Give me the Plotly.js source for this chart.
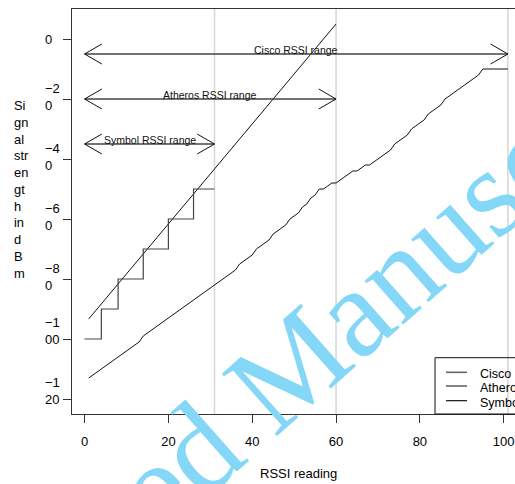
<!DOCTYPE html>
<html>
<head>
<meta charset="utf-8">
<script src="https://cdn.plot.ly/plotly-3.0.1.min.js"></script>
<style>
html,body{margin:0;padding:0;background:#fff;}
#chart{width:515px;height:484px;}
</style>
</head>
<body>
<div id="chart"></div>
<script>
// ---------- data ----------
const seriesNames = ['Cisco', 'Atheros', 'Symbol'];

// Cisco: dBm for RSSI 0..100 (plotted at index 1..101)
const ciscoDbm = [-113,-112,-111,-110,-109,-108,-107,-106,-105,-104,
  -103,-102,-101,-99,-98,-97,-96,-95,-94,-93,
  -92,-91,-90,-89,-88,-87,-86,-85,-84,-83,
  -82,-81,-80,-79,-78,-77,-75,-74,-73,-72,
  -70,-69,-68,-67,-65,-64,-63,-62,-60,-59,
  -58,-56,-55,-53,-52,-50,-50,-49,-48,-48,
  -47,-46,-45,-44,-44,-43,-42,-42,-41,-40,
  -39,-38,-37,-35,-34,-33,-32,-30,-29,-28,
  -27,-25,-24,-23,-22,-20,-19,-18,-17,-16,
  -15,-14,-13,-12,-10,-10,-10,-10,-10,-10,-10];

// Atheros: straight line
const atherosX = [1, 60];
const atherosDbm = [-93.3, 5];

// Symbol: step function
const symbolX = [0, 4, 8, 14, 20, 26, 31];
const symbolDbm = [-100, -90, -80, -70, -60, -50, -50];

// Range arrows
const rangeLabels = ['Cisco RSSI range', 'Atheros RSSI range', 'Symbol RSSI range'];
const rangeStart = [0, 0, 0];
const rangeEnd = [101, 60, 31];
const rangeLevel = [-5, -20, -35];

// Axis ticks
const xTickVals = [0, 20, 40, 60, 80, 100];
const xTickText = ['0', '20', '40', '60', '80', '100'];
const yTickVals = [0, -20, -40, -60, -80, -100, -120];
const yTickText = ['0', '\u221220', '\u221240', '\u221260', '\u221280', '\u2212100', '\u2212120'];

const xTitle = 'RSSI reading';
const yTitleLines = ['Si', 'gn', 'al', 'str', 'en', 'gt', 'h', 'in', 'd', 'B', 'm'];
const watermark = 'Accepted Manuscript';

// ---------- layout geometry ----------
const W = 515, H = 484;
const mL = 72, mR = 0, mT = 9, mB = 70;
const plotW = W - mL - mR, plotH = H - mT - mB;
const xRange = [-3, 102.7];
const yRange = [-125, 10];
const pxPerX = plotW / (xRange[1] - xRange[0]);
const pxPerY = plotH / (yRange[1] - yRange[0]);
const px2paperX = px => (px - mL) / plotW;
const px2paperY = py => (H - mB - py) / plotH;

const FONT = 'Liberation Sans, Arial, sans-serif';
const ink = '#000';

// ---------- traces ----------
const ciscoX = ciscoDbm.map((_, i) => i + 1);
const traces = [
  {x: ciscoX, y: ciscoDbm, type: 'scatter', mode: 'lines', name: seriesNames[0],
   line: {color: '#111', width: 1}, showlegend: false, hoverinfo: 'skip'},
  {x: atherosX, y: atherosDbm, type: 'scatter', mode: 'lines', name: seriesNames[1],
   line: {color: '#111', width: 1}, showlegend: false, hoverinfo: 'skip'},
  {x: symbolX, y: symbolDbm, type: 'scatter', mode: 'lines', name: seriesNames[2],
   line: {color: '#444', width: 1.2, shape: 'hv'}, showlegend: false, hoverinfo: 'skip'}
];

// ---------- shapes ----------
const shapes = [];
// grey vertical reference lines
rangeEnd.forEach(v => shapes.push({type: 'line', xref: 'x', yref: 'paper', x0: v, x1: v, y0: 0, y1: 1,
  line: {color: '#d6d6d6', width: 1.5}, layer: 'below'}));

// double-headed arrows
const headLen = 20, headAng = 30 * Math.PI / 180;
const hdx = headLen * Math.cos(headAng) / pxPerX;
const hdy = headLen * Math.sin(headAng) / pxPerY;
rangeLabels.forEach((lab, i) => {
  const a = rangeStart[i], b = rangeEnd[i], y = rangeLevel[i];
  shapes.push({type: 'line', xref: 'x', yref: 'y', x0: a, x1: b, y0: y, y1: y, line: {color: '#444', width: 1.4}});
  shapes.push({type: 'path', xref: 'x', yref: 'y',
    path: `M${a + hdx},${y + hdy} L${a},${y} L${a + hdx},${y - hdy}`, line: {color: '#111', width: 1}});
  shapes.push({type: 'path', xref: 'x', yref: 'y',
    path: `M${b - hdx},${y + hdy} L${b},${y} L${b - hdx},${y - hdy}`, line: {color: '#111', width: 1}});
});

// legend box
const legLeft = 435, legTop = 357.7;
shapes.push({type: 'rect', xref: 'paper', yref: 'paper', x0: px2paperX(legLeft), x1: px2paperX(W + 20),
  y0: 0, y1: px2paperY(legTop), line: {color: '#111', width: 1}, fillcolor: 'rgba(0,0,0,0)'});
const legLineY = [372.3, 386, 400.7];
const legLineCol = ['#666', '#222', '#000'];
const legLineW = [1.6, 1.1, 1.1];
seriesNames.forEach((n, i) => {
  shapes.push({type: 'line', xref: 'paper', yref: 'paper', x0: px2paperX(446), x1: px2paperX(467),
    y0: px2paperY(legLineY[i]), y1: px2paperY(legLineY[i]), line: {color: legLineCol[i], width: legLineW[i]}});
});

// ---------- annotations ----------
const ann = [];
// watermark (drawn first, text on top of it)
ann.push({text: watermark, xref: 'paper', yref: 'paper', x: px2paperX(271), y: px2paperY(384),
  xanchor: 'center', yanchor: 'middle', textangle: -41.5, showarrow: false,
  font: {family: 'Liberation Serif, Times New Roman, serif', size: 127, color: '#84d7f7'}});

// range labels
rangeLabels.forEach((lab, i) => ann.push({text: lab, xref: 'x', yref: 'y',
  x: (rangeStart[i] + rangeEnd[i]) / 2, y: rangeLevel[i], yshift: 4.5,
  xanchor: 'center', yanchor: 'middle', showarrow: false, font: {family: FONT, size: 10.5, color: '#111'}}));

// y tick labels (wrapped, left aligned)
yTickVals.forEach((v, i) => {
  const t = yTickText[i];
  const txt = t.length > 2 ? t.slice(0, 2) + '<br>' + t.slice(2) : t;
  const shift = t.length > 3 ? 8 : (t.length > 2 ? 2.5 : 0);
  ann.push({text: txt, xref: 'paper', yref: 'y', x: px2paperX(43), y: v, yshift: shift,
    xanchor: 'left', yanchor: 'middle',
    align: 'left', showarrow: false, font: {family: FONT, size: 13, color: ink}});
});

// y title
ann.push({text: yTitleLines.join('<br>'), xref: 'paper', yref: 'paper', x: px2paperX(11.5), y: px2paperY(189.5),
  xanchor: 'left', yanchor: 'middle', align: 'left', showarrow: false, font: {family: FONT, size: 12.9, color: ink}});

// x title
ann.push({text: xTitle, xref: 'paper', yref: 'paper', x: px2paperX(298.5), y: px2paperY(473.5),
  xanchor: 'center', yanchor: 'middle', showarrow: false, font: {family: FONT, size: 13, color: ink}});

// legend labels
const legTextY = [374.3, 388.3, 402.7];
seriesNames.forEach((n, i) => ann.push({text: n, xref: 'paper', yref: 'paper', x: px2paperX(478), y: px2paperY(legTextY[i]),
  xanchor: 'left', yanchor: 'middle', showarrow: false, font: {family: FONT, size: 12.5, color: ink}}));

const layout = {
  width: W, height: H,
  margin: {l: mL, r: mR, t: mT, b: mB, pad: 0},
  paper_bgcolor: '#fff', plot_bgcolor: '#fff',
  showlegend: false,
  font: {family: FONT, size: 13, color: ink},
  xaxis: {range: xRange, tickmode: 'array', tickvals: xTickVals, ticktext: xTickText,
    ticks: 'outside', ticklen: 8, tickwidth: 1, tickcolor: '#333',
    showline: true, mirror: true, linecolor: '#333', linewidth: 1,
    showgrid: false, zeroline: false, ticklabelstandoff: 7,
    tickfont: {family: FONT, size: 13, color: ink}},
  yaxis: {range: yRange, tickmode: 'array', tickvals: yTickVals,
    ticks: 'outside', ticklen: 8, tickwidth: 1, tickcolor: '#333',
    showline: true, mirror: false, linecolor: '#333', linewidth: 1,
    showgrid: false, zeroline: false, showticklabels: false},
  shapes: shapes,
  annotations: ann
};

Plotly.newPlot('chart', traces, layout, {displayModeBar: false, staticPlot: true});
</script>
</body>
</html>
